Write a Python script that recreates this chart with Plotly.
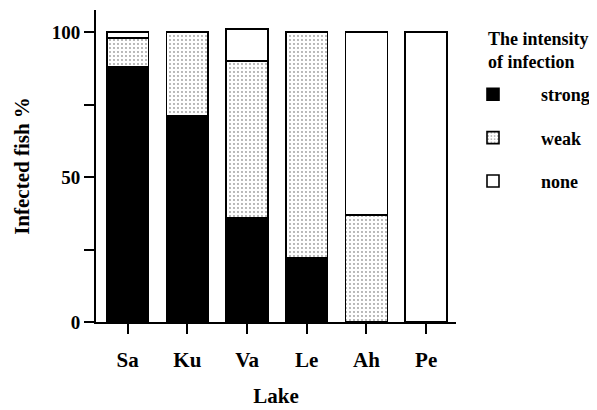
import plotly.graph_objects as go

lakes = ["Sa", "Ku", "Va", "Le", "Ah", "Pe"]
strong = [88, 71, 36, 22, 0, 0]
weak = [10, 29, 54, 78, 37, 0]
none = [2, 0, 11, 0, 63, 100]
series_names = ["strong", "weak", "none"]
legend_title = "The intensity<br>of infection"

FONT = "Liberation Serif"
line = dict(color="black", width=1.6)

fig = go.Figure()
fig.add_trace(go.Bar(x=lakes, y=strong, name=series_names[0], legendgroup="a",
                     marker=dict(color="black", line=line)))
fig.add_trace(go.Bar(x=lakes, y=weak, name=series_names[1], legendgroup="b",
                     marker=dict(color="white", line=line,
                                 pattern=dict(shape=".", fgcolor="#333", bgcolor="white",
                                              size=4, solidity=0.16))))
fig.add_trace(go.Bar(x=lakes, y=none, name=series_names[2], legendgroup="c",
                     marker=dict(color="white", line=line)))

# plot area in page pixels: x 96..456, y 10..322 (page has an 8px body offset)
PX0, PX1, PY0, PY1 = 96, 456, 10, 322

def px(x):
    return (x - PX0) / (PX1 - PX0)

def py(y):
    return (PY1 - y) / (PY1 - PY0)

fig.add_annotation(
    text=legend_title, xref="paper", yref="paper",
    x=px(486), y=py(27), xanchor="left", yanchor="top",
    align="left", showarrow=False,
    font=dict(family=FONT, size=18, weight="bold", color="black"),
)

fig.update_layout(
    width=597, height=410,
    barmode="stack", bargap=0.3,
    plot_bgcolor="white", paper_bgcolor="white",
    margin=dict(l=PX0 - 8, r=597 + 8 - PX1, t=PY0 - 8, b=410 + 8 - PY1, autoexpand=False),
    font=dict(family=FONT, color="black"),
    legend=dict(
        x=px(445), y=py(76),
        xanchor="left", yanchor="top", bgcolor="rgba(0,0,0,0)",
        font=dict(size=18, weight="bold"), tracegroupgap=17, itemwidth=86,
        traceorder="grouped",
    ),
    xaxis=dict(
        range=[-0.53, 5.5], showline=True, linecolor="black", linewidth=2,
        ticks="outside", ticklen=10, tickwidth=2, tickcolor="black",
        tickfont=dict(size=21, weight="bold"), showgrid=False, automargin=False,
        ticklabelstandoff=8,
        title=dict(text="Lake", font=dict(size=21, weight="bold"), standoff=17),
    ),
    yaxis=dict(
        range=[0, 107.6], showline=True, linecolor="black", linewidth=2,
        tickvals=[0, 50, 100], ticks="outside", ticklen=10, tickwidth=2,
        tickcolor="black", tickfont=dict(size=19, weight="bold"), showgrid=False,
        zeroline=False, automargin=False,
        minor=dict(tickvals=[25, 75], ticks="outside", ticklen=10, tickwidth=2,
                   tickcolor="black", showgrid=False),
        title=dict(text="Infected fish %", font=dict(size=21, weight="bold"), standoff=16),
    ),
)

fig.write_html("out.html")
